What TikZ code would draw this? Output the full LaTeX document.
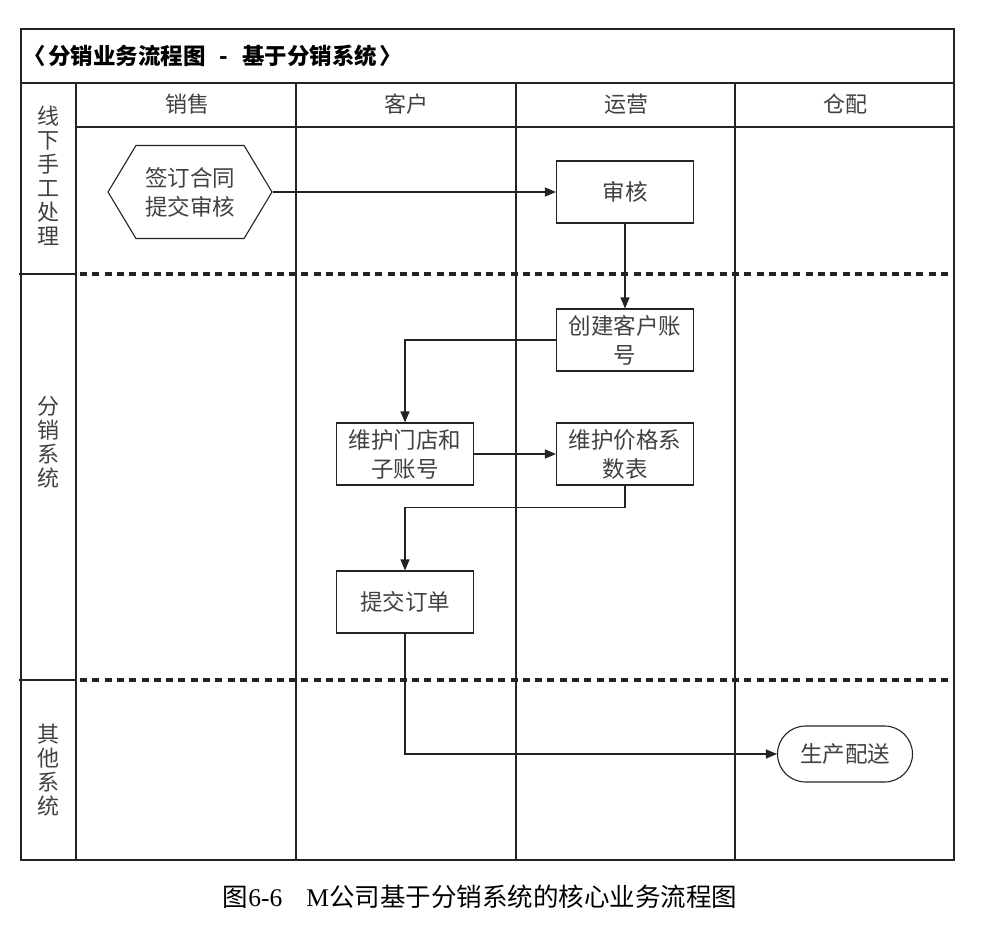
\documentclass[tikz,border=0pt]{standalone}
\usepackage{fontspec}
\setmainfont{Noto Sans CJK SC}
\newfontfamily\latinserif{Liberation Serif}
\usetikzlibrary{arrows.meta, positioning, shapes.symbols, shapes.misc}
\definecolor{lanegray}{RGB}{35,35,35}
\definecolor{textgray}{RGB}{65,65,65}
\tikzset{
  lane/.style={draw=lanegray, line width=1.2pt},
  sep/.style={lanegray, line width=3.5pt, dash pattern=on 7pt off 5.3pt},
  procbox/.style={draw=lanegray, line width=1.1pt, minimum width=137pt, minimum height=62pt,
    align=center, text=textgray, font=\fontsize{22.5}{29}\selectfont, inner sep=1pt},
  hexbox/.style={procbox, signal, signal to=west and east, signal pointer angle=118,
    minimum width=164pt, minimum height=93pt},
  endbox/.style={procbox, rounded rectangle, minimum height=56pt},
  lanelabel/.style={text=textgray, font=\fontsize{22}{24}\selectfont, align=center},
  flow/.style={draw=lanegray, line width=1.1pt, -{Triangle[length=11pt,width=9pt]}}
}
\begin{document}
\begin{tikzpicture}[x=1pt, y=-1pt]
  \useasboundingbox[fill=white] (0,0) rectangle (985,929);

  % frame and lanes
  \draw[lane] (21,29) rectangle (954,860);
  \draw[lane] (21,83) -- (954,83);
  \draw[lane] (76,83) -- (76,860);
  \draw[lane] (76,127) -- (954,127);
  \foreach \xx in {296,516,735}
    \draw[lane] (\xx,83) -- (\xx,860);
  \foreach \yy in {274,680} {
    \draw[lane] (19,\yy) -- (76,\yy);
    \draw[sep] (80,\yy) -- (954,\yy);
  }

  % texts of the frame
  \node[anchor=west, font=\fontsize{22.5}{24}\selectfont\bfseries] (title) at (20,56)
    {〈\hspace{2pt}分销业务流程图\hspace{14pt}-\hspace{14pt}基于分销系统\hspace{2pt}〉};
  \node[lanelabel] (colsale) at (187,104) {销售};
  \node[lanelabel] (colcust) at (406,104) {客户};
  \node[lanelabel] (colops)  at (626,104) {运营};
  \node[lanelabel] (colware) at (845,104) {仓配};
  \node[lanelabel] (rowmanual) at (48,176) {线\\下\\手\\工\\处\\理};
  \node[lanelabel] (rowsys)    at (48,442) {分\\销\\系\\统};
  \node[lanelabel] (rowother)  at (48,770) {其\\他\\系\\统};

  % steps
  \node[hexbox] (contract) at (190,192) {签订合同\\提交审核};
  \node[procbox] (audit) at (625,192) {审核};
  \node[procbox] (account) at (625,340) {创建客户账\\号};
  \node[procbox] (store) at (405,454) {维护门店和\\子账号};
  \node[procbox] (price) at (625,454) {维护价格系\\数表};
  \node[procbox] (order) at (405,602) {提交订单};
  \node[endbox] (deliver) at (845,754) {生产配送};

  \draw[flow] (contract.east) -- (audit.west);
  \draw[flow] (audit) -- (account);
  \draw[flow] (account.west) -| (store.north);
  \draw[flow] (store) -- (price);
  \draw[flow] (price.south) -- ++(0,22) -| (order.north);
  \draw[flow] (order.south) |- (deliver.west);

  % caption
  \node[font=\fontsize{25.5}{28}\selectfont] (caption) at (480,897)
    {图{\latinserif 6-6}\hspace{24pt}{\latinserif M}公司基于分销系统的核心业务流程图};
\end{tikzpicture}
\end{document}
